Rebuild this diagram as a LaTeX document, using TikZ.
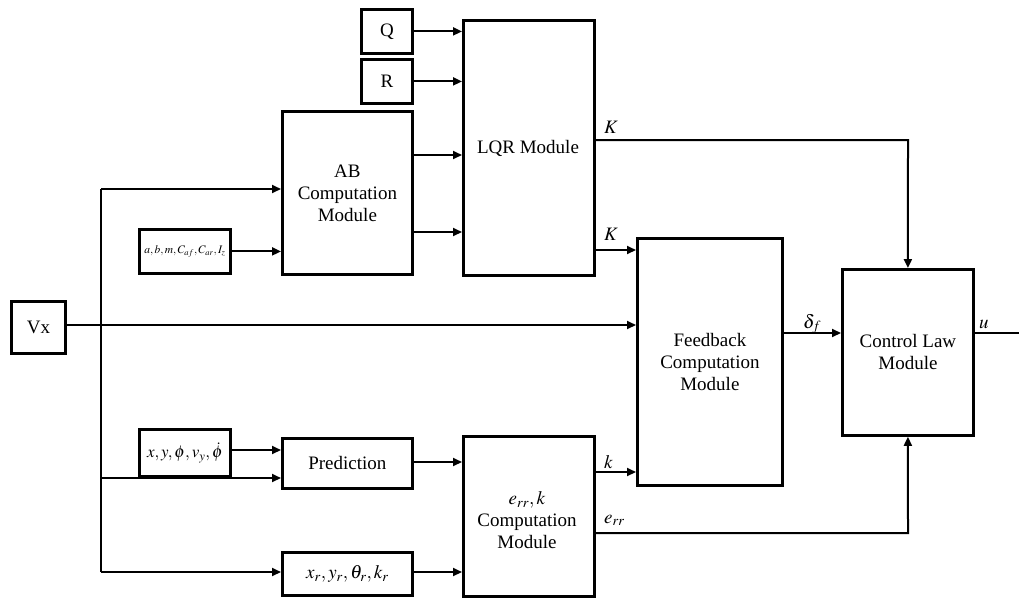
\documentclass[tikz,border=0pt]{standalone}
\usepackage{mathptmx}
\usepackage{fontspec}
\setmainfont{Liberation Serif}
\usetikzlibrary{arrows.meta,calc}
\begin{document}
\begin{tikzpicture}[x=1pt,y=-1pt,
  blk/.style={draw,line width=2.8pt,inner sep=0pt,anchor=north west,align=center,font=\fontsize{19}{22}\selectfont},
  txt/.style={inner sep=0pt,align=center,font=\fontsize{19}{22}\selectfont},
  lbl/.style={inner sep=0pt,anchor=base west,font=\fontsize{19}{22}\selectfont},
  arr/.style={line width=2pt,-{Triangle[length=9pt,width=8pt]}},
  ln/.style={line width=2pt}]
\useasboundingbox (0,0) rectangle (1019,605);
% boxes
\node[blk,minimum width=51pt,minimum height=44pt] (Q) at (360,8) {Q};
\node[blk,minimum width=51pt,minimum height=44pt] (R) at (360,58) {R};
\node[blk,minimum width=131pt,minimum height=255pt] (LQR) at (462,19) {};
\node[txt] (LQRt) at (528,148) {LQR Module};
\node[blk,minimum width=130pt,minimum height=163pt] (AB) at (281,110) {AB\\Computation\\Module};
\node[blk,minimum width=91pt,minimum height=44pt,font=\fontsize{11.5}{13}\selectfont] (P) at (138,228) {$a, b, m, C_{af}, C_{ar}, I_z$};
\node[blk,minimum width=54pt,minimum height=52pt] (Vx) at (10,300) {Vx};
\node[blk,minimum width=91pt,minimum height=47pt,font=\fontsize{17}{20}\selectfont] (S) at (138,428) {$x, y, \phi, v_y, \dot{\phi}$};
\node[blk,minimum width=130pt,minimum height=50pt] (Pred) at (281,437) {Prediction};
\node[blk,minimum width=130pt,minimum height=43pt] (Ref) at (281,551) {$x_r, y_r, \theta_r, k_r$};
\node[blk,minimum width=131pt,minimum height=160pt] (E) at (462,435) {};
\node[txt] (Et) at (527,520) {$e_{rr}, k$\\Computation\\Module};
\node[blk,minimum width=145pt,minimum height=247pt] (FB) at (636,237) {Feedback\\Computation\\Module};
\node[blk,minimum width=131pt,minimum height=166pt] (CL) at (841,268) {Control Law\\Module};
% helper coordinates
\coordinate (bt) at (101,189);
\coordinate (bp) at (101,478);
\coordinate (bb) at (101,572);
\coordinate (kt) at (908,140);
\coordinate (eb) at (908,533);
\coordinate (out) at (1019,333);
\coordinate (ab1) at (411,155);
\coordinate (ab2) at (411,232);
% connectors
\draw[arr] (Q.east) -- (Q.east -| LQR.west);
\draw[arr] (R.east) -- (R.east -| LQR.west);
\draw[arr] (ab1) -- (ab1 -| LQR.west);
\draw[arr] (ab2) -- (ab2 -| LQR.west);
\draw[arr] (P.east) -- (P.east -| AB.west);
\draw[arr] (Vx.east |- 0,325) -- (FB.west |- 0,325);
\draw[ln] (bb) -- (bt);
\draw[arr] (bt) -- (bt -| AB.west);
\draw[arr] (bp) -- (bp -| Pred.west);
\draw[arr] (bb) -- (bb -| Ref.west);
\draw[arr] (S.east |- 0,450) -- (Pred.west |- 0,450);
\draw[arr] (Pred.east |- 0,462) -- (E.west |- 0,462);
\draw[arr] (Ref.east |- bb) -- (E.west |- bb);
\draw[arr] (LQR.east |- kt) -- (kt) -- (CL.north);
\draw[arr] (LQR.east |- 0,250) -- (FB.west |- 0,250);
\draw[arr] (E.east |- 0,472) -- (FB.west |- 0,472);
\draw[arr] (E.east |- eb) -- (eb) -- (CL.south);
\draw[arr] (FB.east |- out) -- (CL.west |- out);
\draw[ln] (CL.east |- out) -- (out);
% labels
\node[lbl] (l1) at (604,133) {$K$};
\node[lbl] (l2) at (604,240) {$K$};
\node[lbl] (l3) at (604,468) {$k$};
\node[lbl] (l4) at (604,523) {$e_{rr}$};
\node[lbl] (l5) at (803,328) {$\delta_f$};
\node[lbl] (l6) at (979,328) {$u$};
\end{tikzpicture}
\end{document}
